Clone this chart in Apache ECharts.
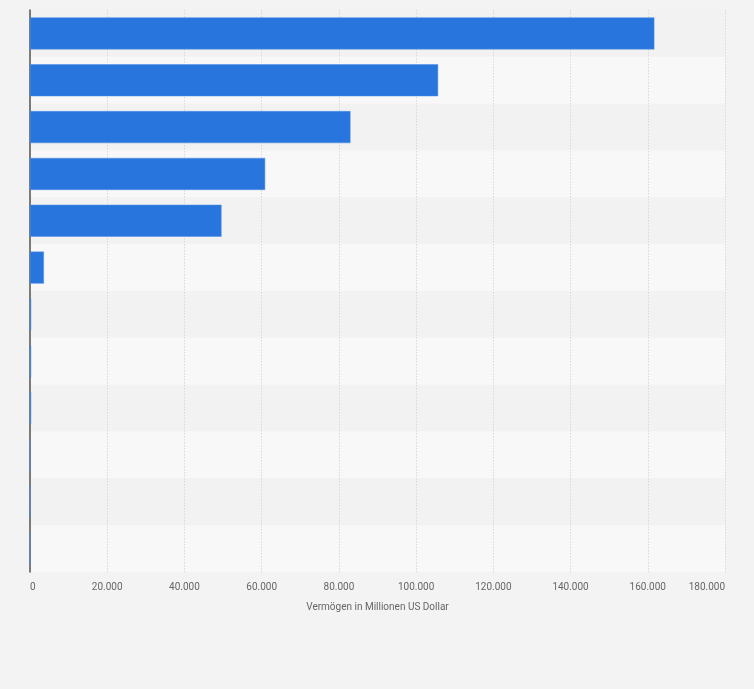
<!DOCTYPE html>
<html>
<head>
<meta charset="utf-8">
<script src="https://cdn.jsdelivr.net/npm/echarts@6/dist/echarts.min.js"></script>
<style>
html,body{margin:0;padding:0;background:#f3f3f3;}
#c{width:754px;height:689px;}
</style>
</head>
<body>
<div id="c"></div>
<script>
const categories = ["Rang 1","Rang 2","Rang 3","Rang 4","Rang 5","Rang 6","Rang 7","Rang 8","Rang 9","Rang 10","Rang 11","Rang 12"];
const values = [161700, 105700, 83000, 60900, 49600, 3600, 300, 300, 300, 0, 0, 0];
const xTicks = {min: 0, max: 180000, interval: 20000};
const axisTitle = "Vermögen in Millionen US Dollar";

function fmt(v){ return String(v).replace(/\B(?=(\d{3})+(?!\d))/g, "."); }

const chart = echarts.init(document.getElementById('c'));
chart.setOption({
  backgroundColor: '#f3f3f3',
  animation: false,
  textStyle: {fontFamily: 'Roboto'},
  grid: {left: 30, right: 29, top: 10, bottom: 117, containLabel: false},
  xAxis: {
    type: 'value',
    min: xTicks.min, max: xTicks.max, interval: xTicks.interval,
    name: axisTitle,
    nameLocation: 'middle',
    nameGap: 30,
    nameTextStyle: {color: '#666', fontSize: 10},
    axisLine: {show: false},
    axisTick: {show: false},
    axisLabel: {color: '#666', fontSize: 10, margin: 10, formatter: fmt, alignMinLabel: 'left', alignMaxLabel: 'right'},
    splitLine: {show: true, lineStyle: {color: '#d9d9d9', type: [1.5, 1.5], width: 1}}
  },
  yAxis: {
    type: 'category',
    data: categories,
    inverse: true,
    axisLabel: {show: false},
    axisTick: {show: false},
    axisLine: {show: true, lineStyle: {color: '#555', width: 1.5}},
    splitArea: {show: true, areaStyle: {color: ['#f2f2f2', '#f8f8f8']}}
  },
  series: [{
    type: 'bar',
    data: values,
    barWidth: 32,
    itemStyle: {color: '#2876dd', borderColor: '#4f8fe3', borderWidth: 0.5}
  }]
});
</script>
</body>
</html>
